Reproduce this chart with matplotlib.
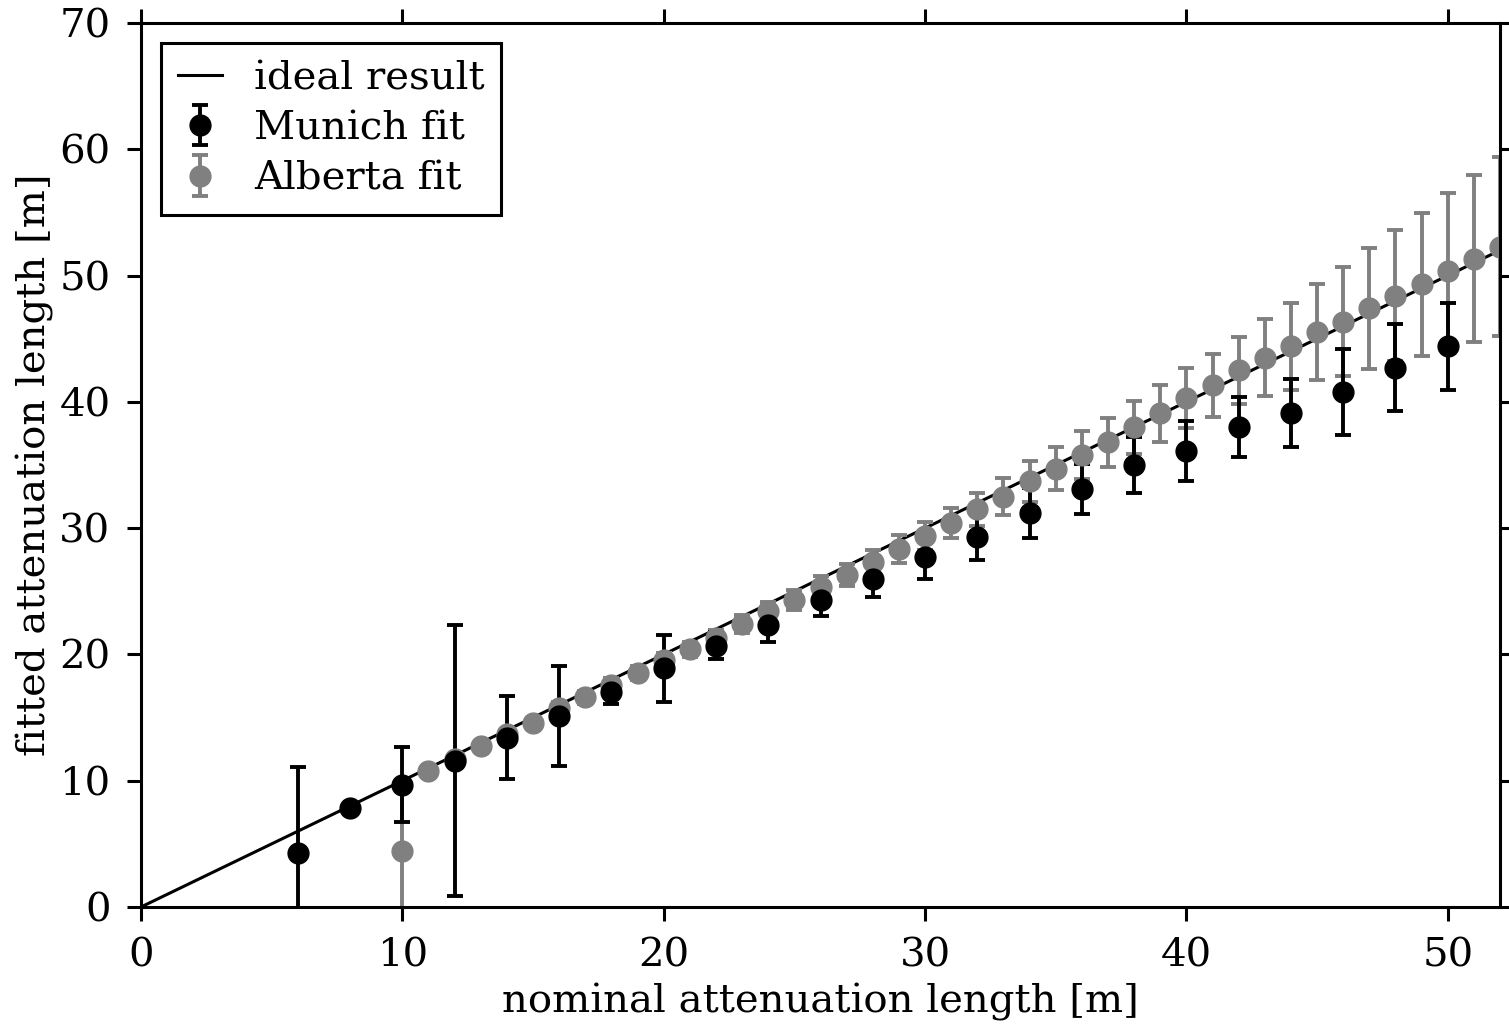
import numpy as np
import matplotlib
matplotlib.use('Agg')
import matplotlib.pyplot as plt

# ideal line: fitted = nominal
ideal_x = np.array([0., 60.])

# Munich fit
munich_x = [6, 8, 10, 12, 14, 16, 18, 20, 22, 24, 26, 28, 30, 32, 34, 36, 38, 40, 42, 44, 46, 48, 50]
munich_y = [4.3, 7.8, 9.7, 11.6, 13.4, 15.1, 17.0, 18.9, 20.7, 22.3, 24.3, 26.0, 27.7, 29.3, 31.2,
            33.1, 35.0, 36.1, 38.0, 39.1, 40.8, 42.7, 44.4]
munich_err = [6.8, 0.3, 3.0, 10.7, 3.3, 3.95, 0.9, 2.65, 1.05, 1.3, 1.25, 1.45, 1.75, 1.8, 2.0,
              1.95, 2.25, 2.4, 2.4, 2.7, 3.4, 3.45, 3.45]

# Alberta fit
alberta_x = list(range(10, 53))
alberta_y = [4.4, 10.8, 11.7, 12.75, 13.7, 14.6, 15.75, 16.6, 17.6, 18.5, 19.55, 20.4, 21.3, 22.4,
             23.4, 24.3, 25.35, 26.3, 27.3, 28.35, 29.4, 30.4, 31.5, 32.5, 33.7, 34.7, 35.8, 36.8,
             38.0, 39.1, 40.3, 41.3, 42.5, 43.5, 44.4, 45.5, 46.35, 47.4, 48.4, 49.3, 50.4, 51.35, 52.3]
alberta_err = [5.0, 0.3, 0.3, 0.35, 0.4, 0.4, 0.45, 0.5, 0.5, 0.55, 0.6, 0.6, 0.65, 0.7,
               0.75, 0.8, 0.85, 0.9, 1.0, 1.1, 1.1, 1.2, 1.3, 1.45, 1.6, 1.7, 1.9, 1.95,
               2.1, 2.25, 2.35, 2.5, 2.65, 3.05, 3.45, 3.8, 4.3, 4.8, 5.2, 5.65, 6.1, 6.6, 7.1]

plt.rcParams['font.family'] = 'DejaVu Serif'
plt.rcParams['font.size'] = 29

fig = plt.figure(figsize=(15.09, 10.24), dpi=100)
ax = fig.add_axes([141/1509., 117/1024., 1359/1509., 884/1024.])

l_ideal, = ax.plot(ideal_x, ideal_x, color='black', lw=2.2, label='ideal result')
e_alb = ax.errorbar(alberta_x, alberta_y, yerr=alberta_err, fmt='o', color='gray', ms=15,
                    elinewidth=2.8, capsize=6, capthick=2.8, label='Alberta fit')
e_mun = ax.errorbar(munich_x, munich_y, yerr=munich_err, fmt='o', color='black', ms=15,
                    elinewidth=2.8, capsize=6, capthick=2.8, label='Munich fit')

ax.set_xlim(0, 52)
ax.set_ylim(0, 70)
ax.set_xticks([0, 10, 20, 30, 40, 50])
ax.set_yticks([0, 10, 20, 30, 40, 50, 60, 70])
ax.tick_params(direction='out', length=10, width=2.2, top=True, right=True, pad=12)
for s in ax.spines.values():
    s.set_linewidth(2.2)

ax.set_xlabel('nominal attenuation length [m]', labelpad=6)
ax.set_ylabel('fitted attenuation length [m]', labelpad=4)

leg = ax.legend([l_ideal, e_mun, e_alb], ['ideal result', 'Munich fit', 'Alberta fit'],
                loc='upper left', fancybox=False, edgecolor='black', framealpha=1,
                handlelength=1.1, borderpad=0.42, labelspacing=0.33, handletextpad=0.78,
                borderaxespad=0.5)
leg.get_frame().set_linewidth(2.2)

fig.savefig('out.png', dpi=100)
